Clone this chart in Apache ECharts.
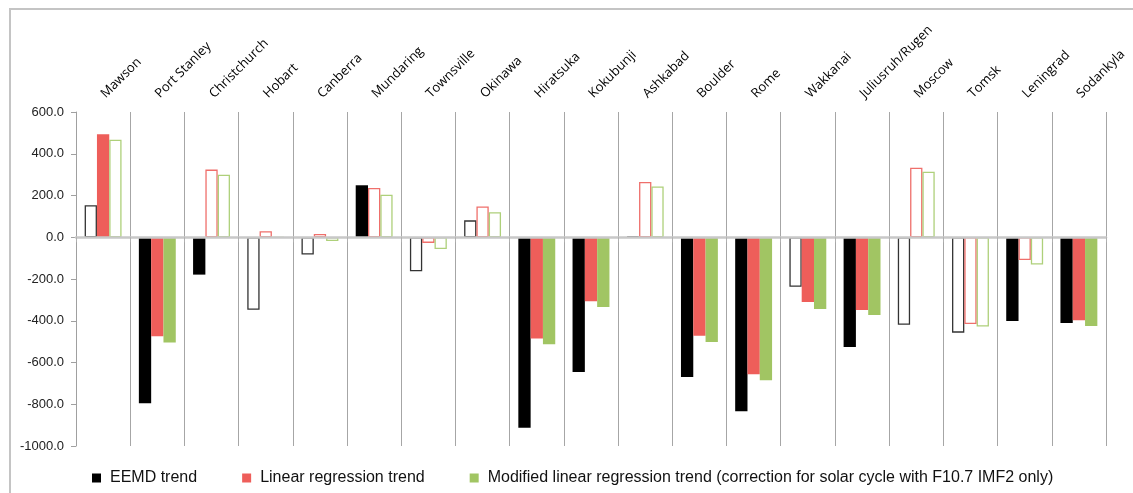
<!DOCTYPE html>
<html>
<head>
<meta charset="utf-8">
<script src="https://cdn.jsdelivr.net/npm/echarts@6/dist/echarts.min.js"></script>
<style>
  html, body { margin: 0; padding: 0; background: #fff; }
  #chart { width: 1133px; height: 493px; }
</style>
</head>
<body>
<div id="chart"></div>
<script>
// Ionosonde stations
const categories = ['Mawson', 'Port Stanley', 'Christchurch', 'Hobart', 'Canberra', 'Mundaring',
  'Townsville', 'Okinawa', 'Hiratsuka', 'Kokubunji', 'Ashkabad', 'Boulder', 'Rome', 'Wakkanai',
  'Juliusruh/Rugen', 'Moscow', 'Tomsk', 'Leningrad', 'Sodankyla'];

// Trend values per station
const eemd     = [153, -795, -179, -347, -83, 249, -163, 81, -913, -646, 3, -670, -834, -237, -526, -419, -457, -401, -411];
const linear   = [493, -474, 324, 29, 16, 236, -27, 147, -485, -306, 265, -472, -656, -310, -349, 333, -416, -109, -398];
const modified = [467, -504, 300, -2, -18, 204, -56, 120, -512, -334, 243, -502, -685, -344, -373, 314, -428, -131, -425];

// 1 = significant trend (filled bar), 0 = not significant (outlined bar)
const eemdSig     = [0, 1, 1, 0, 0, 1, 0, 0, 1, 1, 0, 1, 1, 0, 1, 0, 0, 1, 1];
const linearSig   = [1, 1, 0, 0, 0, 0, 0, 0, 1, 1, 0, 1, 1, 1, 1, 0, 0, 0, 1];
const modifiedSig = [0, 1, 0, 0, 0, 0, 0, 0, 1, 1, 0, 1, 1, 1, 1, 0, 0, 0, 1];

const seriesNames = ['EEMD trend', 'Linear regression trend',
  'Modified linear regression trend (correction for solar cycle with F10.7 IMF2 only)'];

const yTicks = { min: -1000, max: 600, step: 200 };

function barItems(values, sig, fill, stroke) {
  return values.map((v, i) => sig[i]
    ? { value: v, itemStyle: { color: fill, borderWidth: 0 } }
    : { value: v, itemStyle: { color: '#ffffff', borderColor: stroke, borderWidth: 1.3 } });
}

function makeSeries(name, values, sig, fill, stroke) {
  return {
    name: name,
    type: 'bar',
    xAxisIndex: 0,
    barWidth: 12.3,
    barGap: '0%',
    itemStyle: { color: fill },
    data: barItems(values, sig, fill, stroke),
    emphasis: { disabled: true }
  };
}

const chart = echarts.init(document.getElementById('chart'), null, { renderer: 'canvas' });

chart.setOption({
  animation: false,
  backgroundColor: '#ffffff',
  graphic: [{
    type: 'rect',
    shape: { x: 10, y: 9, width: 1300, height: 700 },
    style: { fill: 'none', stroke: '#c4c4c4', lineWidth: 2 },
    silent: true
  }],
  grid: { left: 76, right: 27, top: 112, bottom: 47, containLabel: false },
  legend: {
    left: 87,
    top: 465,
    itemWidth: 9,
    itemHeight: 9,
    itemGap: 45,
    icon: 'rect',
    selectedMode: false,
    textStyle: { fontFamily: 'Liberation Sans', fontSize: 16, color: '#111', padding: [0, 0, 0, 4] },
    data: seriesNames
  },
  xAxis: [{
    // station names along the top, with separators between stations
    type: 'category',
    data: categories,
    position: 'top',
    axisLine: { show: false },
    axisTick: { show: false },
    axisLabel: {
      interval: 0,
      rotate: 45,
      margin: 16,
      fontFamily: 'Open Sans',
      fontSize: 13,
      color: '#000'
    },
    splitLine: { show: true, interval: 0, lineStyle: { color: '#a6a6a6', width: 1 } }
  }, {
    // zero baseline
    type: 'category',
    data: categories,
    position: 'bottom',
    z: 5,
    axisLine: { show: true, onZero: true, onZeroAxisIndex: 0, lineStyle: { color: '#c8c8c8', width: 2.5 } },
    axisTick: { show: true, length: 5, interval: 0, lineStyle: { color: '#b0b0b0', width: 1 } },
    axisLabel: { show: false },
    splitLine: { show: false }
  }],
  yAxis: {
    type: 'value',
    min: yTicks.min,
    max: yTicks.max,
    interval: yTicks.step,
    axisLine: { show: true, onZero: false, lineStyle: { color: '#a0a0a0', width: 1 } },
    axisTick: { show: true, length: 5, lineStyle: { color: '#a0a0a0' } },
    axisLabel: {
      margin: 12,
      fontFamily: 'Liberation Sans',
      fontSize: 13,
      color: '#222',
      formatter: v => v.toFixed(1)
    },
    splitLine: { show: false }
  },
  series: [
    makeSeries(seriesNames[0], eemd, eemdSig, '#000000', '#333333'),
    makeSeries(seriesNames[1], linear, linearSig, '#ee5e5a', '#ef6f6b'),
    makeSeries(seriesNames[2], modified, modifiedSig, '#a1c563', '#aed07a')
  ]
});
</script>
</body>
</html>
